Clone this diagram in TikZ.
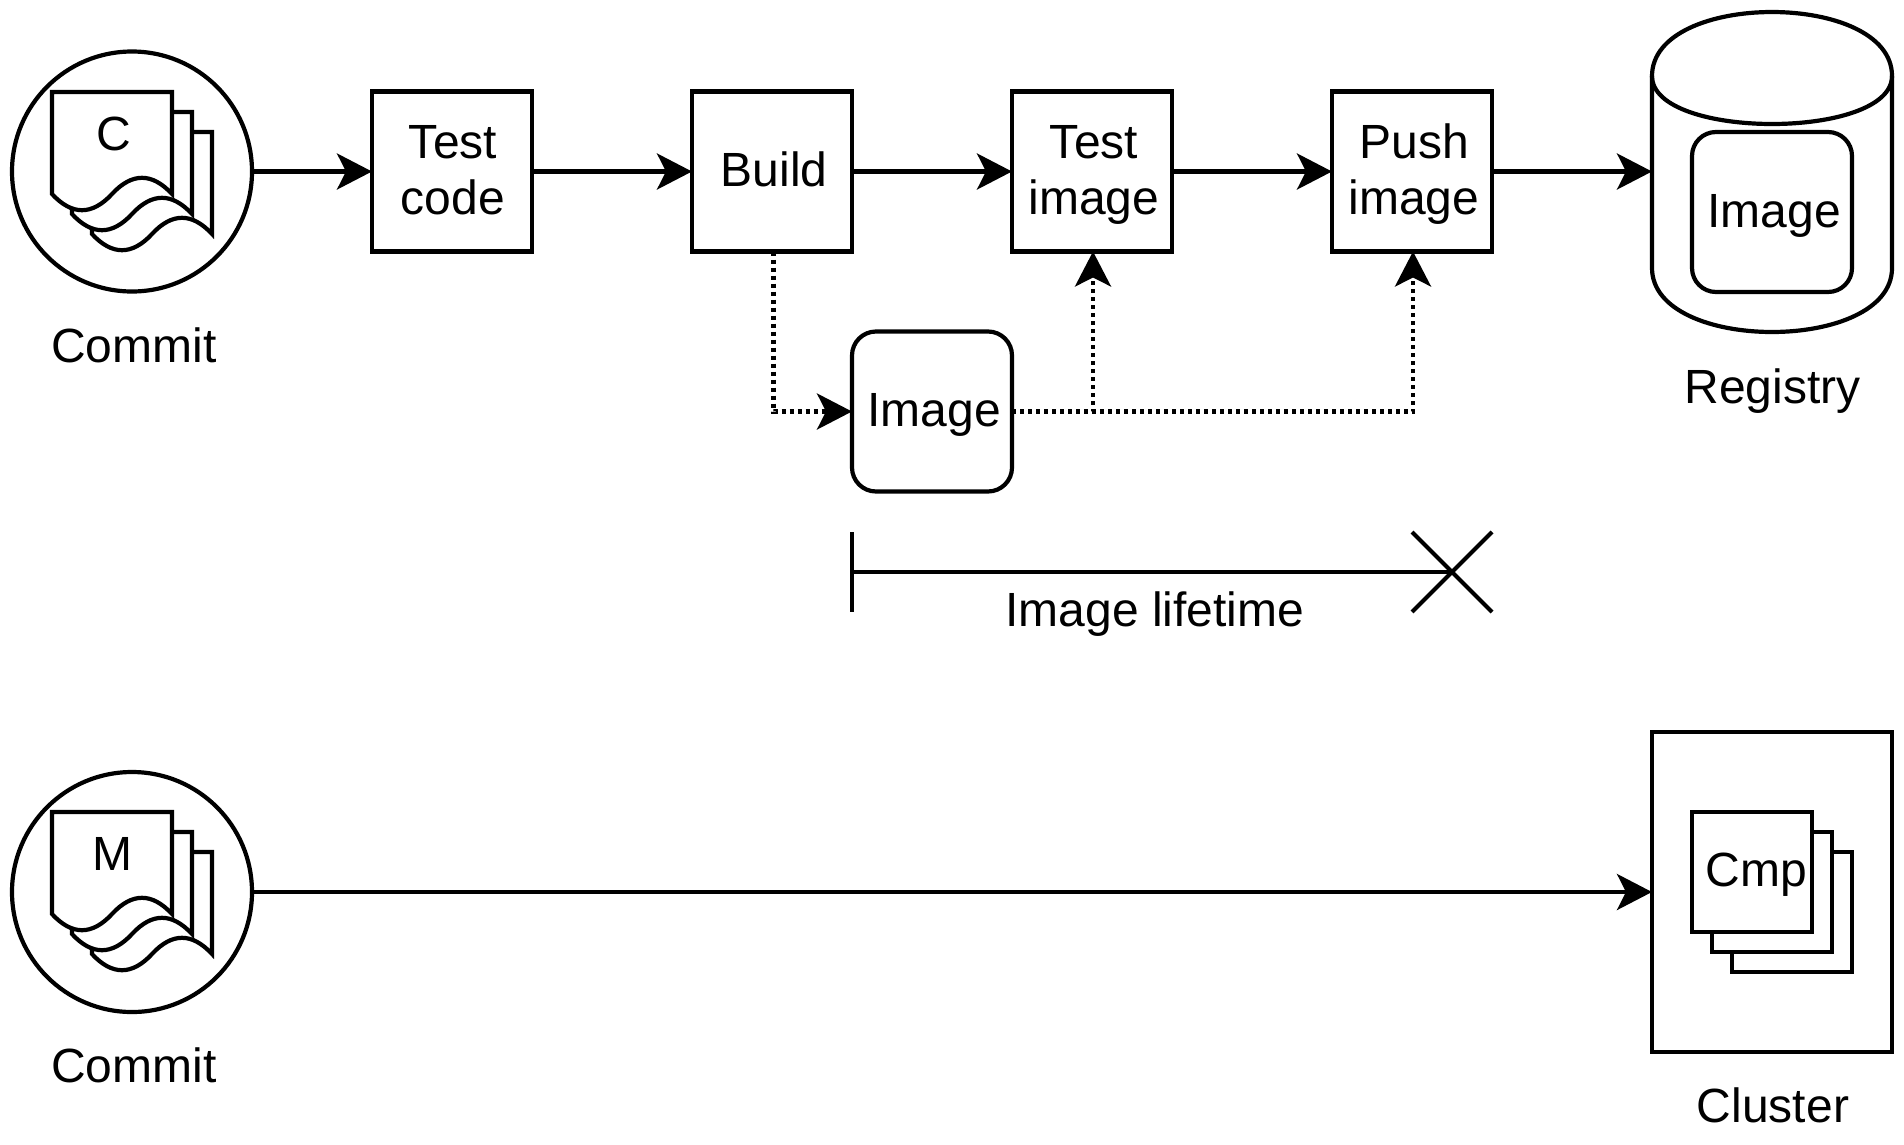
\documentclass[tikz,border=0pt]{standalone}
\usepackage{fontspec}
\setmainfont{Liberation Sans}
\usetikzlibrary{arrows.meta}
\tikzset{
  line/.style={line width=4.2pt,draw=black},
  flow/.style={line,-{Stealth[length=35pt,width=36pt,inset=9pt]}},
  dotflow/.style={flow,dash pattern=on 4pt off 4pt},
  box/.style={line,rectangle,fill=white,minimum width=160pt,minimum height=160pt,inner sep=0pt,outer sep=0pt},
  rbox/.style={box,rounded corners=24pt},
  smallbox/.style={box,minimum width=120pt,minimum height=120pt},
  round/.style={line,circle,minimum size=240pt,inner sep=0pt,outer sep=0pt},
  label/.style={font=\fontsize{48}{56}\selectfont,inner sep=0pt,anchor=base,align=center},
  sheet/.style={line,fill=white,miter limit=10},
  ghost/.style={rectangle,inner sep=0pt,outer sep=0pt}
}
% document sheet with its top-left corner at #1,#2
\newcommand{\docsheet}[2]{%
  \draw[sheet,shift={(#1,#2)}] (0,0) -- (120,0) -- (120,102)
    .. controls (100,80.4) and (80,80.4) .. (60,102)
    .. controls (40,123.6) and (20,123.6) .. (0,102) -- cycle;}
\newcommand{\sheetstack}[2]{\docsheet{#1+40}{#2+40}\docsheet{#1+20}{#2+20}\docsheet{#1}{#2}}
\begin{document}
\begin{tikzpicture}[x=1pt,y=-1pt]
\useasboundingbox (0,0) rectangle (1904,1144);
% top row
\node[round] (c1) at (132,171.5) {};
\sheetstack{52}{92}
\node[label] (c1t) at (114,150) {C};
\node[label] (c1l) at (134,362) {Commit};
\node[box] (test) at (452,171.5) {};
\node[box] (build) at (772,171.5) {};
\node[box] (timg) at (1092,171.5) {};
\node[box] (push) at (1412,171.5) {};
\node[rbox] (img) at (932,411.5) {};
\node[label] (testt) at (453,214) {Test\\code};
\node[label] (buildt) at (774,186) {Build};
\node[label] (timgt) at (1094,214) {Test\\image};
\node[label] (pusht) at (1414,214) {Push\\image};
\node[label] (imgt) at (934,426) {Image};
% registry
\node[ghost,minimum width=240pt,minimum height=320pt] (reg) at (1772,171.5) {};
\draw[line] (1652,76) .. controls (1652,-9.33) and (1892,-9.33) .. (1892,76)
  -- (1892,268) .. controls (1892,353.33) and (1652,353.33) .. (1652,268) -- cycle;
\draw[line] (1652,76) .. controls (1652,140) and (1892,140) .. (1892,76);
\node[rbox] (rimg) at (1772,212) {};
\node[label] (rimgt) at (1774,227) {Image};
\node[label] (regl) at (1772.5,403) {Registry};
% arrows
\draw[flow] (c1) -- (test);
\draw[flow] (test) -- (build);
\draw[flow] (build) -- (timg);
\draw[flow] (timg) -- (push);
\draw[flow] (push) -- (reg);
\draw[dotflow] ([xshift=1.5pt]build.south) |- (img.west);
\draw[dotflow] (img.east) -| ([xshift=1pt]timg.south);
\draw[dotflow] (img.east) -| ([xshift=1pt]push.south);
% lifetime
\coordinate (ta) at (852,532);
\coordinate (tb) at (852,612);
\coordinate (tm) at (852,572);
\coordinate (xa) at (1412,532);
\coordinate (xb) at (1492,612);
\coordinate (xc) at (1412,612);
\coordinate (xd) at (1492,532);
\coordinate (xm) at (1452,572);
\draw[line] (ta) -- (tb);
\draw[line] (tm) -- (xm);
\draw[line] (xa) -- (xb);
\draw[line] (xc) -- (xd);
\node[label] (life) at (1155,626) {Image lifetime};
% bottom row
\node[round] (c2) at (132,892) {};
\sheetstack{52}{812}
\node[label] (c2t) at (112,870) {M};
\node[label] (c2l) at (134,1082) {Commit};
\node[box,minimum width=240pt,minimum height=320pt] (cluster) at (1772,892) {};
\node[smallbox] (cmp3) at (1792,912) {};
\node[smallbox] (cmp2) at (1772,892) {};
\node[smallbox] (cmp1) at (1752,872) {};
\node[label] (cmpt) at (1756.5,886) {Cmp};
\node[label] (cll) at (1773,1122) {Cluster};
\draw[flow] (c2) -- (cluster);
\end{tikzpicture}
\end{document}
